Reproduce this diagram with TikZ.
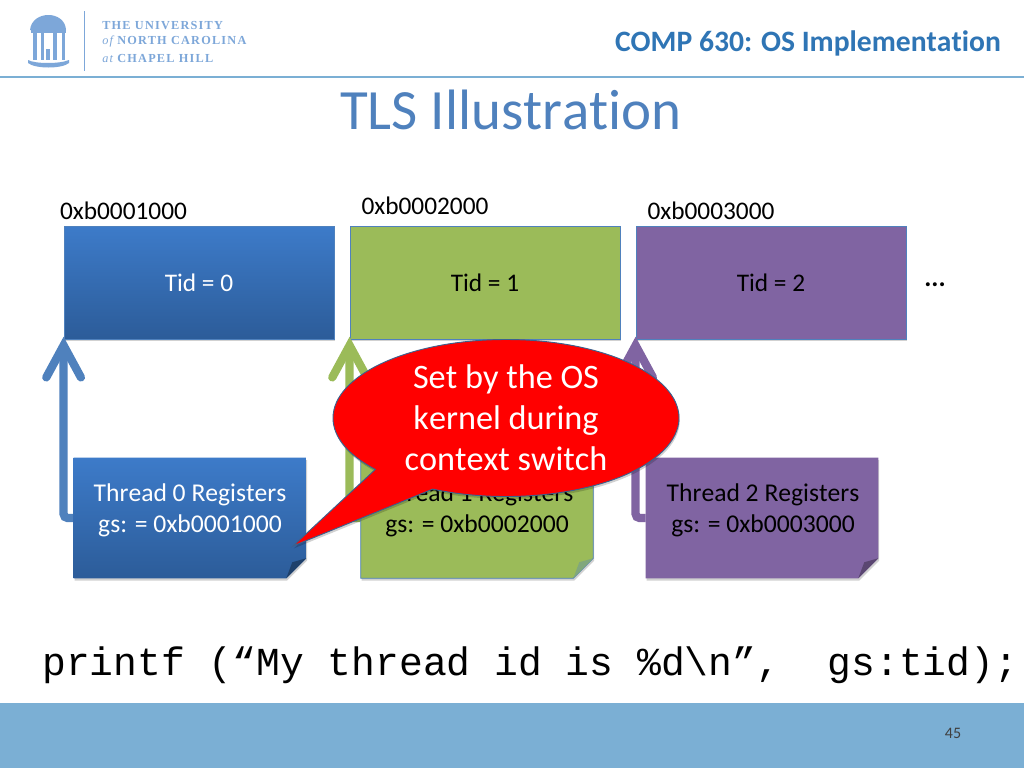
\documentclass[tikz,border=0pt]{standalone}
\usepackage{fontspec}
\setmainfont[RawFeature={-liga;-clig;-kern}]{Carlito}
\setmonofont{Liberation Mono}
\newfontfamily\logofont[LetterSpace=10]{Liberation Serif}
\usetikzlibrary{arrows.meta,shadows,shapes.callouts,shapes.geometric}
\definecolor{uncblue}{HTML}{7BAFD4}
\definecolor{titleblue}{HTML}{4F81BD}
\definecolor{headblue}{HTML}{2F75B5}
\definecolor{acblue}{HTML}{4F81BD}
\definecolor{acgreen}{HTML}{9BBB59}
\definecolor{acpurple}{HTML}{8064A2}
\definecolor{bluetop}{HTML}{3D7BC9}
\definecolor{bluebot}{HTML}{2C5C99}
\definecolor{logoblue}{HTML}{7DA7D9}
\tikzset{
  softshadow/.style={drop shadow={shadow xshift=0.6pt,shadow yshift=-1.8pt,opacity=.18,fill=black}},
  membox/.style={rectangle,draw=acblue,line width=.6pt,minimum width=270*0.75pt,minimum height=113*0.75pt,inner sep=0pt,font=\fontsize{19}{23}\selectfont,softshadow},
  threadanchor/.style={rectangle,minimum width=232*0.75pt,minimum height=120*0.75pt,inner sep=0pt},
  threadtext/.style={align=center,font=\fontsize{19.2}{23.2}\selectfont,inner sep=0pt},
  addr/.style={font=\fontsize{19}{23}\selectfont,inner sep=0pt,text=black},
  linkarrow/.style={line width=6.2pt,rounded corners=3pt,shorten >=-2pt,-{Straight Barb[length=24pt,width=26pt,line join=miter,line cap=round]}},
  logotext/.style={anchor=west,inner sep=0pt,text=logoblue,font=\logofont\fontsize{9.2}{11}\selectfont\bfseries},
}
\begin{document}
\begin{tikzpicture}[x=0.75pt,y=-0.75pt]
\useasboundingbox (0,0) rectangle (1024,768);
\fill[white] (0,0) rectangle (1024,768);
% header
\draw[uncblue,line width=1pt] (0,77) -- (1024,77);
\fill[uncblue] (0,703) rectangle (1024,768);
% logo
\begin{scope}[logoblue]
\fill (30,30) .. controls (32,10) and (65,10) .. (66,30) -- cycle;
\fill (31,28) rectangle (66,33);
\foreach \a/\b in {33/37,41/44,53/57,62/65}{\fill (\a,33) rectangle (\b,60);}
\fill (46,49) rectangle (50,60);
\fill (28,60) .. controls (35,64) and (60,64) .. (69,60) -- (69,63) .. controls (62,69) and (35,69) .. (28,63) -- cycle;
\draw[line width=.7pt] (84.5,11) -- (84.5,71);
\end{scope}
\node[logotext] (l1) at (102,25.5) {THE UNIVERSITY};
\node[logotext] (l2) at (102,41.5) {{\itshape\mdseries of} NORTH CAROLINA};
\node[logotext] (l3) at (102,58) {{\itshape\mdseries at} CHAPEL HILL};
\node[inner sep=0pt,text=headblue,font=\fontsize{22.2}{26}\selectfont\bfseries] (head) at (808,43.5) {COMP 630: OS Implementation};
\node[inner sep=0pt,text=titleblue,font=\fontsize{42.7}{50}\selectfont] (title) at (511,110) {TLS Illustration};
% memory blocks
\node[membox,top color=bluetop,bottom color=bluebot,text=white] (m0) at (199,282.5) {Tid = 0};
\node[membox,fill=acgreen,text=black] (m1) at (485,282.5) {Tid = 1};
\node[membox,fill=acpurple,text=black] (m2) at (771,282.5) {Tid = 2};
\node[addr] (a0) at (123.5,211) {0xb0001000};
\node[addr] (a1) at (425,206) {0xb0002000};
\node[addr] (a2) at (711,210.5) {0xb0003000};
\node[inner sep=0pt,font=\fontsize{20}{22}\selectfont\bfseries] (dots) at (935,285) {...};
% thread anchors
\node[threadanchor] (t0) at (190,518) {};
\node[threadanchor] (t1) at (477,518) {};
\node[threadanchor] (t2) at (762,518) {};
% arrows
\draw[linkarrow,acblue] (t0.west) -| (m0.south west);
\draw[linkarrow,acgreen] (t1.west) -| (m1.south west);
\draw[linkarrow,acpurple] (t2.west) -| (m2.south west);
% thread boxes
\newcommand{\foldbox}[4]{%
  \path[#2,#3,softshadow] (#1.north west) -- (#1.north east) -- ([yshift=15pt]#1.south east) -- ([xshift=-15pt]#1.south east) -- (#1.south west) -- cycle;
  \fill[#4] ([yshift=15pt]#1.south east) -- ([xshift=-10.5pt,yshift=12pt]#1.south east) -- ([xshift=-15pt]#1.south east) -- cycle;
}
\foldbox{t0}{top color=bluetop,bottom color=bluebot}{draw=none}{bluebot!70!black}
\foldbox{t1}{fill=acgreen}{draw=acblue,line width=.6pt}{acgreen!65!acblue}
\foldbox{t2}{fill=acpurple}{draw=none}{acpurple!70!black}
\node[threadtext,text=white] (tt0) at (190,510.5) {Thread 0 Registers\\gs: = 0xb0001000};
\node[threadtext,text=black] (tt1) at (477,510.5) {Thread 1 Registers\\gs: = 0xb0002000};
\node[threadtext,text=black] (tt2) at (763,510.5) {Thread 2 Registers\\gs: = 0xb0003000};
% callout
\node[ellipse callout,callout absolute pointer={(293,546)},callout pointer arc=24,fill=red,draw=acblue!75!black,line width=.7pt,
  minimum width=346*0.75pt,minimum height=157*0.75pt,inner sep=0pt,align=center,text=white,
  font=\fontsize{25.7}{30.8}\selectfont,softshadow] (call) at (506,418) {Set by the OS\\kernel during\\context switch};
% code
\node[inner sep=0pt,anchor=base west,font=\ttfamily\fontsize{29.75}{34}\selectfont] (code) at (42,675.5) {printf (“My thread id is \%d\textbackslash n”,\ \ gs:tid);};
\node[inner sep=0pt,text=black!75,font=\fontsize{12}{14}\selectfont] (page) at (953,733) {45};
\end{tikzpicture}
\end{document}
